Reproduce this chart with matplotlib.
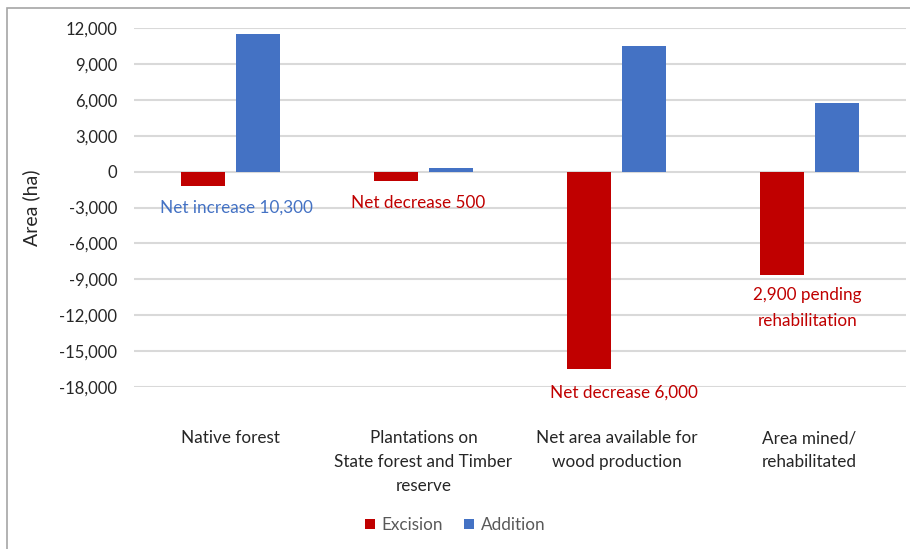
import numpy as np
import matplotlib.pyplot as plt
from matplotlib.patches import Rectangle

categories = ["Native forest",
              "Plantations on\nState forest and Timber\nreserve",
              "Net area available for\nwood production",
              "Area mined/\nrehabilitated"]
excision = [-1200, -800, -16500, -8600]
addition = [11500, 300, 10500, 5700]
y_ticks = np.arange(-18000, 12001, 3000)

red = "#C00000"
blue = "#4472C4"
grid_col = "#D9D9D9"

plt.rcParams['font.family'] = ['Lato', 'DejaVu Sans']

fig = plt.figure(figsize=(9.1, 5.49), dpi=100)
ax = fig.add_axes([134/910, 1 - 387/549, (906 - 134)/910, (387 - 28)/549])

x = np.arange(len(categories))
w = 0.223
off = 0.1425
ax.bar(x - off, excision, w, color=red, label="Excision", zorder=3)
ax.bar(x + off, addition, w, color=blue, label="Addition", zorder=3)

ax.set_xlim(-0.5, len(categories) - 0.5)
ax.set_ylim(-18000, 12000)
ax.set_yticks(y_ticks)
ax.set_yticklabels([f"{v:,}" for v in y_ticks], fontsize=12, color="#262626")
ax.set_xticks(x)
ax.set_xticklabels(categories, fontsize=12.3, color="#262626", linespacing=1.6)
ax.tick_params(length=0, axis="y", pad=12)
ax.tick_params(length=0, axis="x", pad=31)
for s in ax.spines.values():
    s.set_visible(False)
ax.grid(axis="y", color=grid_col, linewidth=1.5, zorder=0)
ax.set_ylabel("Area (ha)", fontsize=14, color="#262626")
ax.yaxis.set_label_coords((40 - 134) / (906 - 134), 0.5)

# net change notes
note = dict(fontsize=12.3, ha="center", va="center", zorder=4)
ax.text(0.03, -3000, "Net increase 10,300", color=blue, **note)
ax.text(0.97, -2600, "Net decrease 500", color=red, **note)
ax.text(2.04, -18500, "Net decrease 6,000", color=red, **note)
ax.text(2.99, -11400, "2,900 pending\nrehabilitation", color=red,
        linespacing=1.75, **note)

ax.legend(loc="center", bbox_to_anchor=(0.5, 1 - 525/549), bbox_transform=fig.transFigure,
          ncol=2, frameon=False, fontsize=12.3, handlelength=0.6, handleheight=0.6,
          handletextpad=0.4, columnspacing=1.2, labelcolor="#595959")

# chart frame
fig.patches.append(Rectangle((7/910, -0.1), 1.1, 1 - 8/549 + 0.1, transform=fig.transFigure,
                             fill=False, edgecolor="#A6A6A6", linewidth=1.2))

fig.savefig("out.png", dpi=100)
